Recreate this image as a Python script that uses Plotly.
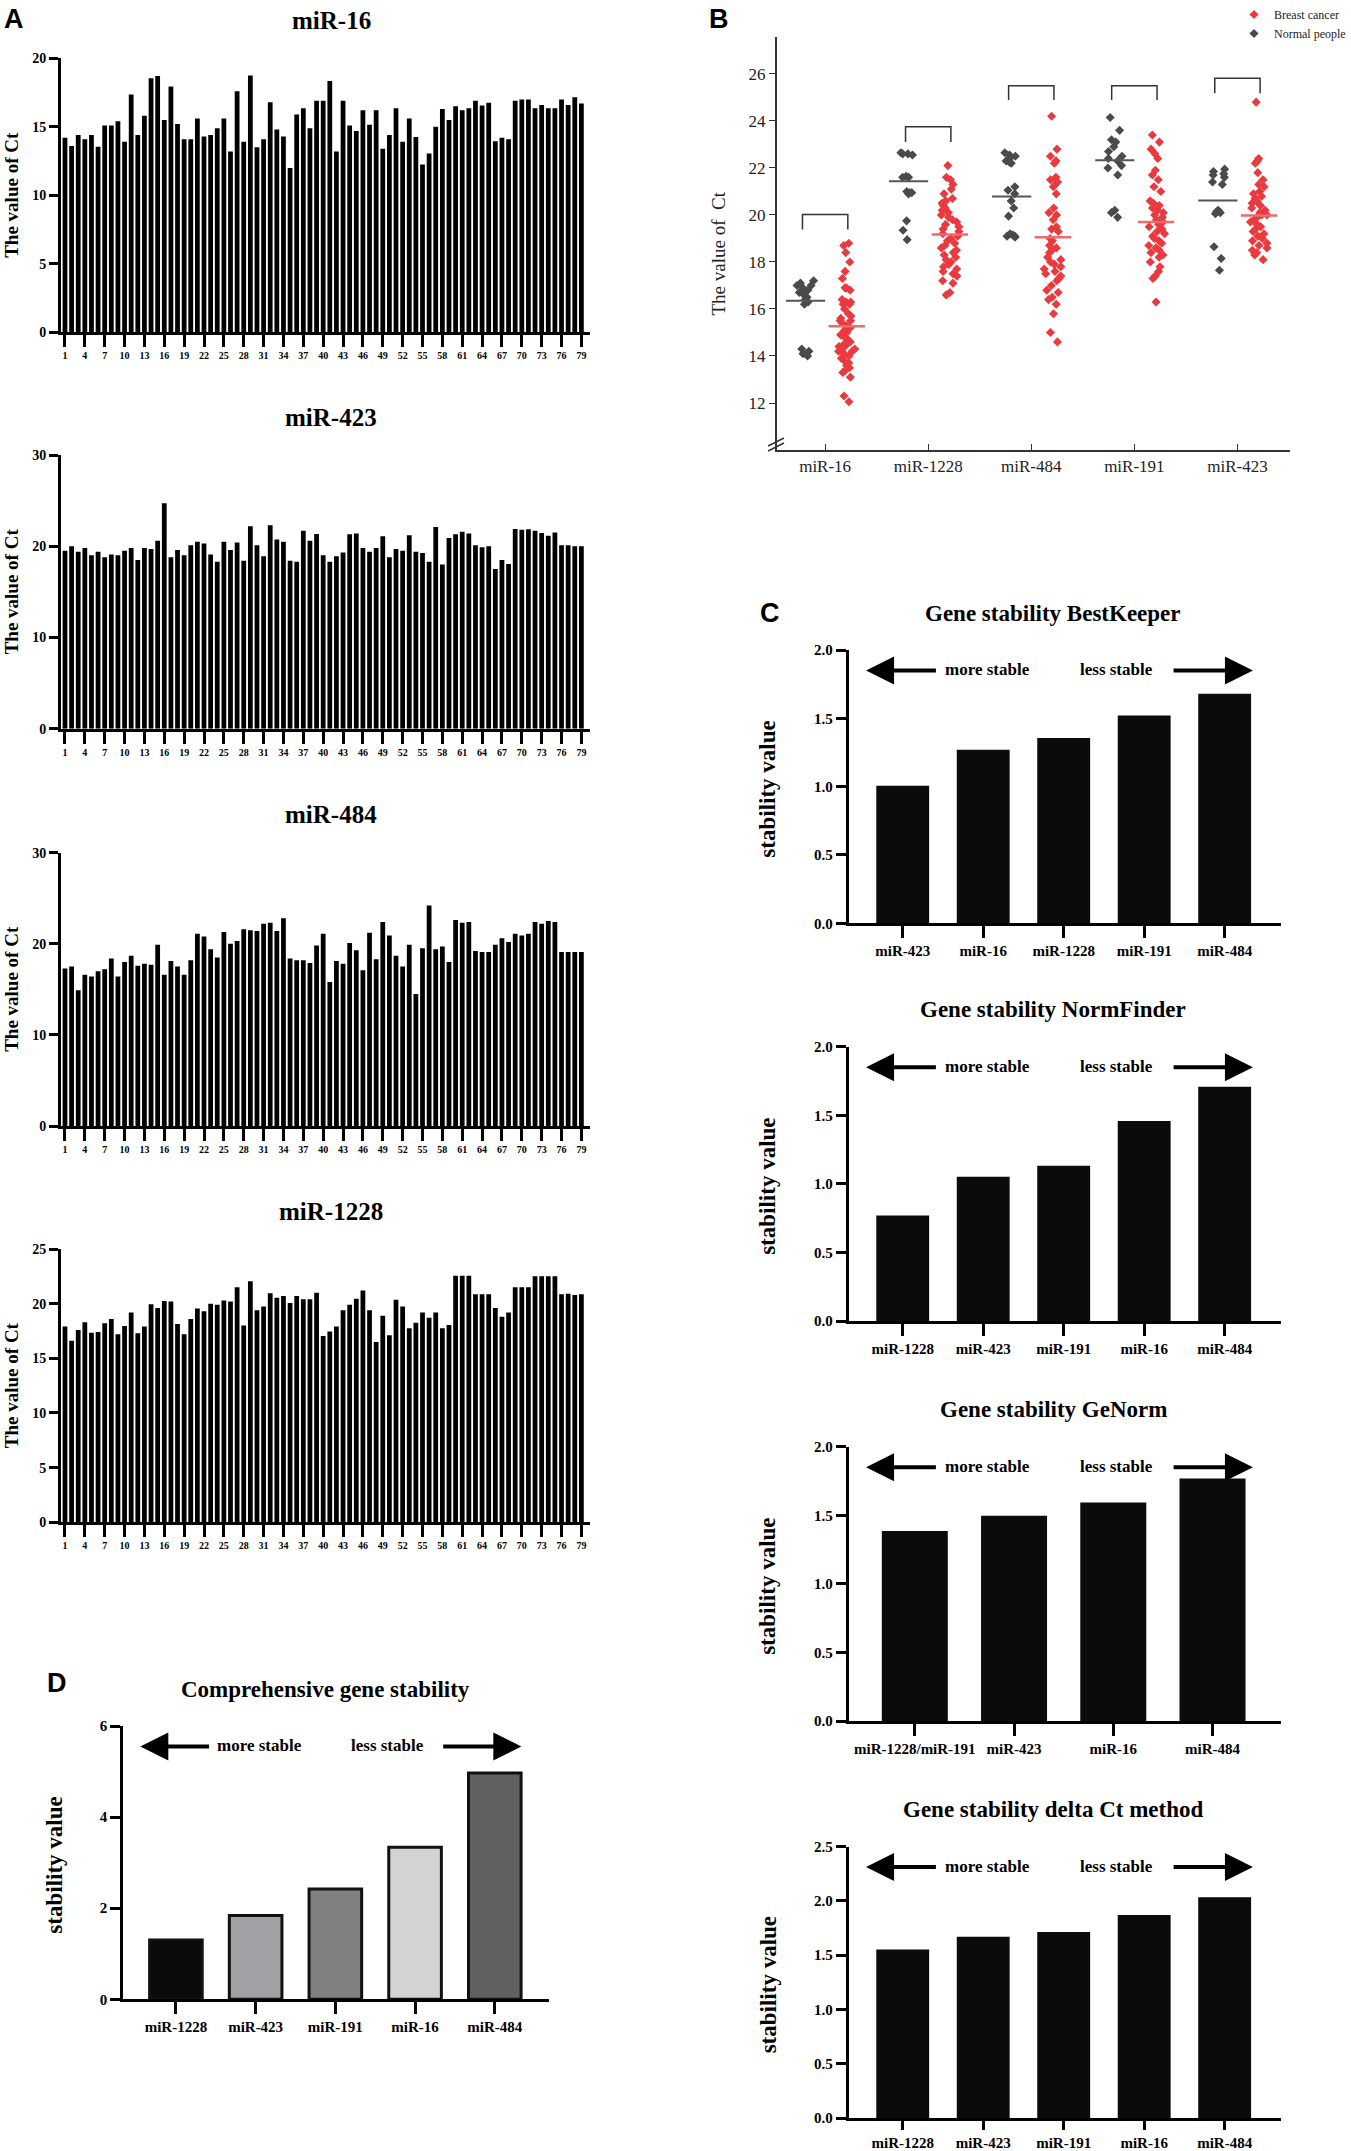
import plotly.graph_objects as go

# %% Data ----------------------------------------------------------------------

sample_ids = list(range(1, 80))
sample_ticks = list(range(1, 80, 3))

ct_mir16 = [14.2, 13.6, 14.4, 14.1, 14.4, 13.55, 15.1, 15.1, 15.4, 13.9,
            17.35, 14.4, 15.8, 18.55, 18.7, 15.5, 17.95, 15.2, 14.1, 14.1,
            15.6, 14.3, 14.4, 14.9, 15.6, 13.2, 17.6, 13.9, 18.75, 13.5,
            14.1, 16.8, 14.8, 14.3, 12.0, 15.9, 16.35, 14.9, 16.9, 16.9,
            18.35, 13.2, 16.9, 15.1, 14.7, 16.2, 15.15, 16.2, 13.4, 14.4,
            16.35, 13.9, 15.6, 14.25, 12.25, 13.05, 15.0, 16.3, 15.5, 16.5,
            16.2, 16.35, 16.9, 16.55, 16.75, 13.95, 14.2, 14.1, 16.9, 17.0,
            17.0, 16.35, 16.6, 16.35, 16.35, 17.0, 16.6, 17.15, 16.7]
ct_mir423 = [19.5, 20.0, 19.4, 19.8, 19.0, 19.4, 18.8, 19.1, 19.0, 19.5,
             19.8, 18.5, 19.8, 19.7, 20.6, 24.7, 18.8, 19.6, 19.0, 20.1,
             20.5, 20.3, 19.1, 18.3, 20.5, 19.6, 20.4, 18.4, 22.2, 20.1,
             18.9, 22.3, 20.75, 20.5, 18.4, 18.3, 21.7, 20.6, 21.35, 19.0,
             18.3, 18.9, 19.3, 21.3, 21.4, 19.8, 19.4, 19.8, 21.1, 18.8,
             19.7, 19.5, 21.2, 19.4, 19.25, 18.3, 22.1, 18.0, 20.9, 21.3,
             21.6, 21.4, 20.1, 19.9, 20.0, 17.5, 18.5, 18.05, 21.9, 21.8,
             21.85, 21.7, 21.45, 21.15, 21.5, 20.1, 20.1, 20.0, 20.0]
ct_mir484 = [17.3, 17.5, 14.9, 16.6, 16.4, 17.0, 17.2, 18.4, 16.4, 18.0,
             18.7, 17.6, 17.8, 17.7, 19.9, 16.6, 18.1, 17.5, 16.6, 18.2,
             21.1, 20.8, 19.4, 18.5, 21.3, 20.0, 20.3, 21.6, 21.5, 21.4,
             22.2, 22.3, 21.4, 22.8, 18.4, 18.2, 18.2, 17.9, 19.8, 21.1,
             15.8, 18.1, 17.8, 20.1, 19.3, 17.1, 21.2, 18.3, 22.4, 20.9,
             18.7, 17.5, 19.9, 14.5, 19.5, 24.2, 19.4, 19.7, 18.0, 22.6,
             22.3, 22.4, 19.2, 19.1, 19.1, 19.9, 20.6, 20.2, 21.1, 20.9,
             21.1, 22.4, 22.2, 22.5, 22.4, 19.1, 19.1, 19.1, 19.1]
ct_mir1228 = [17.9, 16.6, 17.6, 18.3, 17.35, 17.4, 18.2, 18.6, 17.2, 17.95,
              19.2, 17.3, 17.9, 19.95, 19.6, 20.25, 20.2, 18.15, 17.2, 18.6,
              19.55, 19.3, 20.0, 19.9, 20.3, 20.2, 21.5, 18.0, 22.05, 19.4,
              19.75, 20.95, 20.55, 20.7, 20.05, 20.7, 20.4, 20.4, 21.0, 17.05,
              17.45, 17.9, 19.4, 19.9, 20.45, 21.2, 19.4, 16.5, 18.9, 17.1,
              20.35, 19.75, 17.75, 18.25, 19.2, 18.7, 19.2, 17.75, 18.05, 22.55,
              22.55, 22.55, 20.85, 20.85, 20.85, 19.6, 18.8, 19.2, 21.5, 21.5,
              21.5, 22.5, 22.5, 22.5, 22.5, 20.85, 20.9, 20.8, 20.85]

genes_b = ["miR-16", "miR-1228", "miR-484", "miR-191", "miR-423"]
normal_mir16 = [17.2, 17.1, 17.0, 17.0, 16.9, 16.8, 16.7, 16.6, 16.5, 16.4,
                16.3, 16.2, 14.3, 14.2, 14.1, 14.0]
normal_mir1228 = [22.65, 22.6, 22.6, 22.55, 21.65, 21.6, 21.6, 21.0, 20.95,
                  20.95, 20.9, 19.75, 19.35, 18.95]
normal_mir484 = [22.65, 22.55, 22.5, 22.4, 22.3, 22.25, 22.2, 21.2, 21.05, 20.9,
                 20.6, 20.3, 19.95, 19.2, 19.15, 19.1, 19.1, 19.05]
normal_mir191 = [24.15, 23.6, 23.2, 23.1, 22.9, 22.7, 22.5, 22.4, 22.3, 22.1,
                 22.0, 21.7, 20.2, 20.1, 19.9]
normal_mir423 = [21.95, 21.85, 21.75, 21.7, 21.6, 21.4, 21.3, 20.2, 20.15, 20.1,
                 20.05, 18.65, 18.15, 17.65]
cancer_mir16 = [18.8, 18.7, 18.4, 18.0, 17.6, 17.3, 16.9, 16.9, 16.8, 16.4,
                16.3, 16.3, 16.2, 16.2, 16.0, 15.8, 15.7, 15.6, 15.5, 15.5,
                15.4, 15.3, 15.2, 15.1, 15.0, 14.9, 14.8, 14.7, 14.6, 14.5,
                14.5, 14.4, 14.4, 14.3, 14.3, 14.2, 14.2, 14.1, 14.0, 13.9,
                13.8, 13.7, 13.6, 13.5, 13.4, 13.3, 13.1, 12.3, 12.05]
cancer_mir1228 = [22.1, 21.6, 21.5, 21.3, 21.1, 20.9, 20.7, 20.6, 20.5, 20.4,
                  20.3, 20.2, 20.1, 20.0, 19.9, 19.8, 19.7, 19.6, 19.5, 19.4,
                  19.3, 19.2, 19.1, 19.0, 18.9, 18.8, 18.7, 18.6, 18.5, 18.4,
                  18.3, 18.2, 18.1, 18.0, 17.9, 17.8, 17.7, 17.6, 17.5, 17.4,
                  17.2, 17.1, 16.7, 16.6]
cancer_mir484 = [24.2, 22.8, 22.5, 22.3, 22.2, 21.6, 21.5, 21.4, 21.3, 21.2,
                 20.9, 20.3, 20.1, 20.0, 19.8, 19.5, 19.4, 19.3, 19.0, 18.9,
                 18.7, 18.6, 18.5, 18.4, 18.2, 18.1, 18.0, 17.9, 17.8, 17.7,
                 17.6, 17.5, 17.4, 17.3, 17.2, 17.0, 16.8, 16.7, 16.5, 16.4,
                 16.2, 15.8, 15.0, 14.6]
cancer_mir191 = [23.4, 23.1, 22.8, 22.6, 22.4, 21.9, 21.7, 21.5, 21.2, 21.0,
                 20.6, 20.5, 20.4, 20.3, 20.2, 20.1, 20.0, 19.9, 19.8, 19.7,
                 19.6, 19.5, 19.4, 19.3, 19.2, 19.1, 19.0, 18.9, 18.8, 18.7,
                 18.6, 18.5, 18.4, 18.3, 18.2, 18.0, 17.8, 17.6, 17.4, 17.3,
                 16.3]
cancer_mir423 = [24.8, 22.4, 22.3, 22.2, 21.8, 21.5, 21.3, 21.2, 21.0, 20.9,
                 20.8, 20.7, 20.6, 20.5, 20.4, 20.3, 20.2, 20.1, 20.0, 20.0,
                 19.9, 19.8, 19.7, 19.6, 19.5, 19.4, 19.3, 19.2, 19.1, 19.0,
                 18.9, 18.8, 18.7, 18.6, 18.5, 18.4, 18.3, 18.1]
normal_mean = [16.35, 21.43, 20.79, 22.33, 20.62]
cancer_mean = [15.27, 19.17, 19.05, 19.70, 19.98]
bracket_top = [20.02, 23.75, 25.5, 25.5, 25.82]
bracket_leg = [19.38, 23.11, 24.89, 24.89, 25.18]

bestkeeper_genes = ["miR-423", "miR-16", "miR-1228", "miR-191", "miR-484"]
bestkeeper_vals = [1.007, 1.27, 1.356, 1.52, 1.68]
normfinder_genes = ["miR-1228", "miR-423", "miR-191", "miR-16", "miR-484"]
normfinder_vals = [0.77, 1.052, 1.132, 1.458, 1.708]
genorm_genes = ["miR-1228/miR-191", "miR-423", "miR-16", "miR-484"]
genorm_vals = [1.385, 1.497, 1.594, 1.769]
deltact_genes = ["miR-1228", "miR-423", "miR-191", "miR-16", "miR-484"]
deltact_vals = [1.552, 1.671, 1.713, 1.871, 2.035]
comp_genes = ["miR-1228", "miR-423", "miR-191", "miR-16", "miR-484"]
comp_vals = [1.30, 1.84, 2.42, 3.34, 4.97]

# %% Style ---------------------------------------------------------------------

W, H = 1351, 2151
SERIF = "Liberation Serif"
SANS = "Liberation Sans"
RED = "#ea3a3f"
GRAY = "#4a4a4a"
NORMAL_OFF, CANCER_OFF = -0.19, 0.21
comp_colors = ["#0a0a0a", "#a1a1a5", "#808080", "#d3d3d3", "#616161"]


def hx(p):
    return p / W


def vy(p):
    return 1 - p / H


def bold_axis(**kw):
    d = dict(showgrid=False, zeroline=False, showline=True, linecolor="black",
             linewidth=3, ticks="outside", tickcolor="black", tickwidth=3,
             automargin=False,
             tickfont=dict(family=SERIF, size=14, color="black", weight="bold"))
    d.update(kw)
    return d


def label(text, px, py, size, family=SERIF, color="black", angle=0):
    # free text placed in figure pixels
    return dict(text=text, x=hx(px), y=vy(py), xref="paper", yref="paper",
                xanchor="center", yanchor="middle", textangle=angle,
                showarrow=False, font=dict(family=family, size=size, color=color))


fig = go.Figure()
layout = {}
annotations = []
shapes = []


def ax_names(n):
    s = "" if n == 1 else str(n)
    return f"x{s}", f"y{s}", f"xaxis{s}", f"yaxis{s}"


# %% Panel A -------------------------------------------------------------------

panel_a = [
    ("miR-16", ct_mir16, 20, 5, 58.3, 332.3),
    ("miR-423", ct_mir423, 30, 10, 455.0, 728.7),
    ("miR-484", ct_mir484, 30, 10, 852.7, 1126.0),
    ("miR-1228", ct_mir1228, 25, 5, 1249.0, 1522.3),
]
for k, (name, vals, ymax, dt, top, bot) in enumerate(panel_a):
    n = k + 1
    xr, yr, xk, yk = ax_names(n)
    fig.add_trace(go.Bar(x=sample_ids, y=vals, marker_color="black",
                         marker_line_width=0, xaxis=xr, yaxis=yr,
                         showlegend=False))
    layout[xk] = bold_axis(domain=[hx(61), hx(590)], anchor=yr,
                           range=[0.4, 80.3], tickvals=sample_ticks,
                           ticklen=12,
                           tickfont=dict(family=SERIF, size=10, color="black",
                                         weight="bold"))
    layout[yk] = bold_axis(domain=[vy(bot), vy(top)], anchor=xr,
                           range=[0, ymax], dtick=dt, ticklen=9)
    annotations.append(label(f"<b>{name}</b>", 331, top - 38, 25))
    annotations.append(label("<b>The value of Ct</b>", 11.5, (top + bot) / 2,
                             19, angle=-90))

# %% Panel B -------------------------------------------------------------------

xr, yr, xk, yk = ax_names(5)
normal_sets = [normal_mir16, normal_mir1228, normal_mir484, normal_mir191,
               normal_mir423]
cancer_sets = [cancer_mir16, cancer_mir1228, cancer_mir484, cancer_mir191,
               cancer_mir423]
for sets, off, color in [(normal_sets, NORMAL_OFF, GRAY),
                         (cancer_sets, CANCER_OFF, RED)]:
    xs, ys = [], []
    for i, vals in enumerate(sets):
        xs += [i + off] * len(vals)
        ys += vals
    fig.add_trace(go.Box(x=xs, y=ys, boxpoints="all", jitter=0.8, pointpos=0,
                         width=0.22, fillcolor="rgba(0,0,0,0)",
                         line=dict(color="rgba(0,0,0,0)", width=0),
                         whiskerwidth=0,
                         marker=dict(symbol="diamond", size=7, color=color),
                         xaxis=xr, yaxis=yr, showlegend=False))

fig.add_trace(go.Scatter(x=[i + NORMAL_OFF for i in range(len(genes_b))],
                         y=normal_mean, mode="markers", xaxis=xr, yaxis=yr,
                         marker=dict(symbol="line-ew", size=28,
                                     line=dict(width=2, color="#555555")),
                         showlegend=False))
fig.add_trace(go.Scatter(x=[i + CANCER_OFF for i in range(len(genes_b))],
                         y=cancer_mean, mode="markers", xaxis=xr, yaxis=yr,
                         marker=dict(symbol="line-ew", size=26,
                                     line=dict(width=2.5, color="#f06a6a")),
                         showlegend=False))
# legend entries
fig.add_trace(go.Scatter(x=[None], y=[None], mode="markers", name="Breast cancer",
                         marker=dict(symbol="diamond", size=7, color=RED),
                         xaxis=xr, yaxis=yr))
fig.add_trace(go.Scatter(x=[None], y=[None], mode="markers", name="Normal people",
                         marker=dict(symbol="diamond", size=7, color=GRAY),
                         xaxis=xr, yaxis=yr))

for i in range(len(genes_b)):
    x0, x1 = i - 0.22, i + 0.22
    shapes.append(dict(type="path", xref=xr, yref=yr,
                       path=f"M{x0},{bracket_leg[i]} L{x0},{bracket_top[i]} "
                            f"L{x1},{bracket_top[i]} L{x1},{bracket_leg[i]}",
                       line=dict(color="#333333", width=1.5)))

thin_font = dict(family=SERIF, size=17, color="#222222")
layout[xk] = dict(domain=[hx(776.7), hx(1290)], anchor=yr, range=[-0.47, 4.51],
                  showgrid=False, zeroline=False, showline=True,
                  automargin=False,
                  linecolor="#333333", linewidth=1.5, ticks="inside", ticklen=6,
                  tickcolor="#333333", tickwidth=1.2,
                  tickvals=list(range(len(genes_b))), ticktext=genes_b,
                  tickfont=thin_font)
layout[yk] = dict(domain=[vy(450), vy(37.3)], anchor=xr, range=[10, 27.56],
                  showgrid=False, zeroline=False, showline=True,
                  automargin=False,
                  linecolor="#333333", linewidth=1.5, ticks="outside", ticklen=6,
                  tickcolor="#333333", tickwidth=1.2,
                  tickvals=[12, 14, 16, 18, 20, 22, 24, 26], tickfont=thin_font)
# axis break marks
for dy in (0, 5):
    shapes.append(dict(type="line", xref="paper", yref="paper",
                       x0=hx(768), y0=vy(446 + dy), x1=hx(784), y1=vy(438 + dy),
                       line=dict(color="#333333", width=1.5)))
annotations.append(label("The value of  Ct", 717.5, 254, 19, color="#222222",
                         angle=-90))

# %% Panel C and D -------------------------------------------------------------

panel_c = [
    (6, "Gene stability BestKeeper", bestkeeper_genes, bestkeeper_vals, 2.0,
     0.5, 650.0, 923.3, 0.657, [-0.67, 4.70], 12),
    (7, "Gene stability NormFinder", normfinder_genes, normfinder_vals, 2.0,
     0.5, 1046.7, 1321.0, 0.657, [-0.67, 4.70], 12),
    (8, "Gene stability GeNorm", genorm_genes, genorm_vals, 2.0,
     0.5, 1446.7, 1721.0, 0.665, [-0.665, 3.69], 12),
    (9, "Gene stability delta Ct method", deltact_genes, deltact_vals, 2.5,
     0.5, 1846.7, 2118.0, 0.657, [-0.67, 4.70], 9),
]


def stability_panel(n, title, genes, vals, ymax, dt, top, bot, bw, xrange,
                    left, right, title_x, colors, outline, ytitle_x, xticklen):
    xr, yr, xk, yk = ax_names(n)
    fig.add_trace(go.Bar(x=genes, y=vals, width=bw, xaxis=xr, yaxis=yr,
                         marker=dict(color=colors,
                                     line=dict(color="#111111", width=outline)),
                         showlegend=False))
    layout[xk] = bold_axis(domain=[hx(left), hx(right)], anchor=yr,
                           type="category", range=xrange, ticklen=xticklen,
                           tickfont=dict(family=SERIF, size=15, color="black",
                                         weight="bold"))
    layout[yk] = bold_axis(domain=[vy(bot), vy(top)], anchor=xr,
                           range=[0, ymax], dtick=dt, ticklen=10,
                           tickformat=".1f" if dt < 1 else "d",
                           tickfont=dict(family=SERIF, size=15, color="black",
                                         weight="bold"))
    annotations.append(label(f"<b>{title}</b>", title_x, top - 37, 23))
    annotations.append(label("<b>stability value</b>", ytitle_x,
                             (top + bot) / 2 + 3, 23, angle=-90))
    dom_w = right - left
    arrow_font = dict(family=SERIF, size=17, color="black")
    for txt, fx in [("<b>more stable</b>", 0.32), ("<b>less stable</b>", 0.62)]:
        annotations.append(dict(text=txt, x=fx, y=0.928, xref=f"{xr} domain",
                                yref=f"{yr} domain", xanchor="center",
                                yanchor="middle", showarrow=False,
                                font=arrow_font))
    for head, tail in [(0.04, 0.205), (0.935, 0.748)]:
        annotations.append(dict(text="", x=head, y=0.925, xref=f"{xr} domain",
                                yref=f"{yr} domain", showarrow=True,
                                ax=(tail - head) * dom_w, ay=0, axref="pixel",
                                ayref="pixel", arrowhead=2, arrowsize=1.4,
                                arrowwidth=4, arrowcolor="black"))


for (n, title, genes, vals, ymax, dt, top, bot, bw, xrange, tl) in panel_c:
    stability_panel(n, title, genes, vals, ymax, dt, top, bot, bw, xrange,
                    848.8, 1281, 1053, "#0b0b0b", 0, 768, tl)

stability_panel(10, "Comprehensive gene stability", comp_genes, comp_vals, 6,
                2, 1726.0, 1999.3, 0.66, [-0.66, 4.68], 123.3, 549, 325,
                comp_colors, 3, 55, 12)

# %% Panel letters -------------------------------------------------------------

for letter, px, py in [("A", 14, 19), ("B", 719, 19), ("C", 770, 613),
                       ("D", 57, 1683)]:
    annotations.append(label(f"<b>{letter}</b>", px, py, 27, family=SANS))

layout.update(
    width=W, height=H, autosize=False,
    margin=dict(l=0, r=0, t=0, b=0, pad=0),
    paper_bgcolor="white", plot_bgcolor="white",
    bargap=0.28, boxmode="overlay",
    legend=dict(x=1.0, y=1.0, xanchor="right", yanchor="top",
                font=dict(family=SERIF, size=12, color="#222222"),
                bgcolor="rgba(0,0,0,0)", itemwidth=30, tracegroupgap=0),
    annotations=annotations, shapes=shapes,
)
fig.update_layout(**layout)

fig.write_html("out.html", config={"displayModeBar": False},
               post_script="document.body.style.margin = '0';")
